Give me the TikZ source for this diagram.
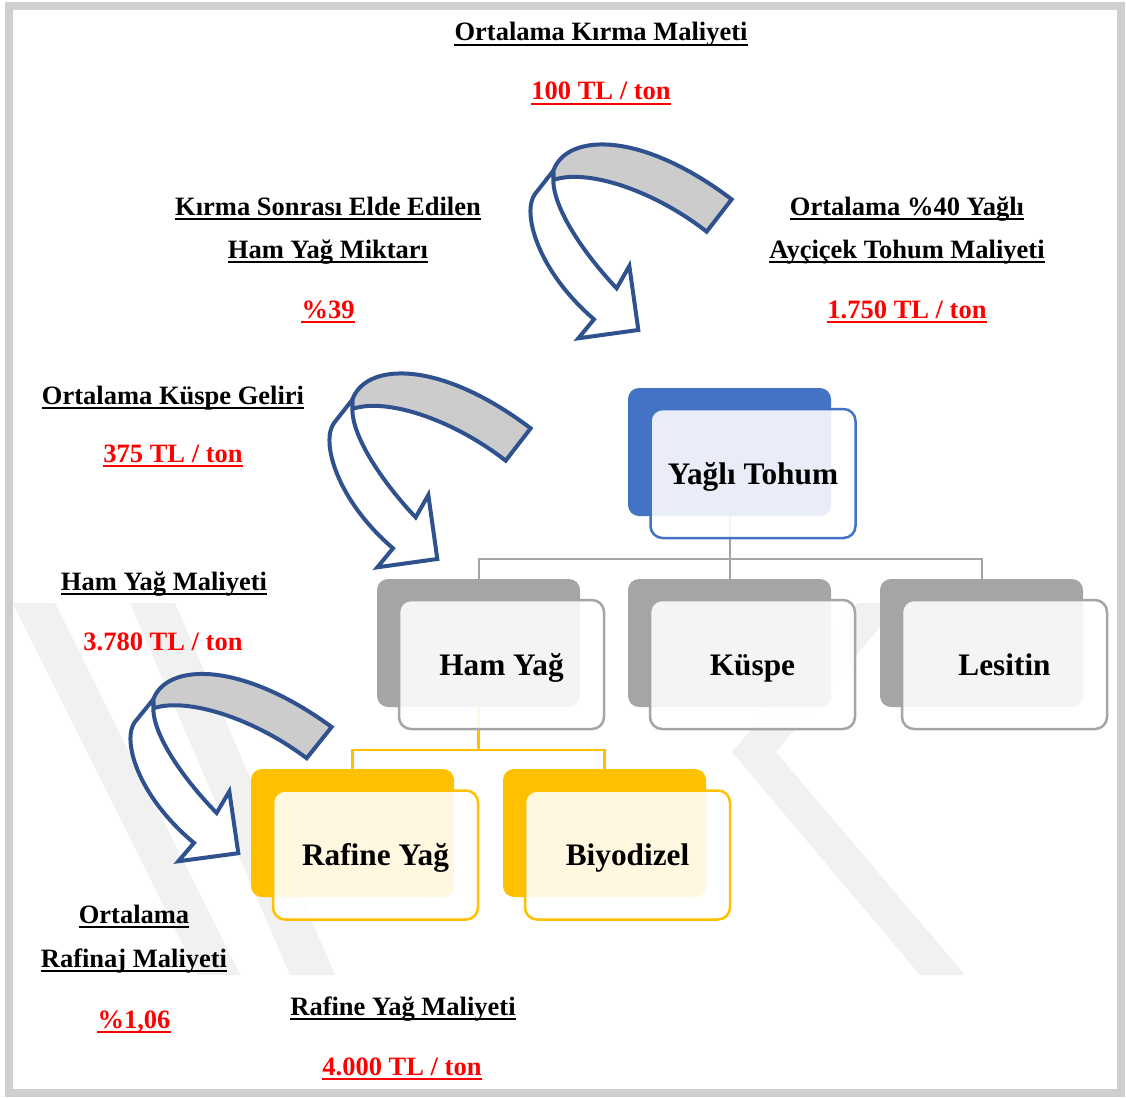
\documentclass[tikz,border=0pt]{standalone}
\usepackage{fontspec}
\setmainfont{Liberation Serif}
\usetikzlibrary{calc}
\definecolor{frameg}{RGB}{208,206,206}
\definecolor{ablue}{RGB}{47,82,143}
\definecolor{sblue}{RGB}{68,114,196}
\definecolor{sgray}{RGB}{165,165,165}
\definecolor{syel}{RGB}{255,192,0}
\definecolor{wmark}{RGB}{241,241,241}
\definecolor{tred}{RGB}{255,0,0}
\tikzset{
  lbl/.style={font=\fontsize{26.5}{30}\selectfont\bfseries, inner sep=0pt, anchor=base},
  redlbl/.style={lbl, text=tred},
  ulk/.style={line width=2.3pt, black},
  ulr/.style={line width=2.3pt, tred},
  backbox/.style={draw=none, minimum width=203pt, minimum height=128pt, rounded corners=11pt, inner sep=0pt},
  frontbox/.style={minimum width=205pt, minimum height=129pt, rounded corners=12pt, line width=2.5pt,
     fill=white, fill opacity=0.88, text opacity=1, inner sep=0pt,
     text height=28pt, text depth=7pt,
     font=\fontsize{31.3}{34}\selectfont\bfseries},
  gline/.style={draw=sgray, line width=2pt},
  yline/.style={draw=syel, line width=2.5pt},
  wm/.style={fill=wmark, draw=none},
  arrline/.style={draw=ablue, line width=4pt, line join=miter, miter limit=6},
  carrow/.pic={
    \filldraw[arrline, fill=gray!40] (100,122) .. controls (140,10) and (360,0) .. (635,208)
       -- (560,305) .. controls (400,180) and (200,115) .. (100,150) -- cycle;
    \filldraw[arrline, fill=white] (100,122) -- (45,192) .. controls (5,245) and (50,420) .. (222,568)
       -- (175,625) -- (355,600) -- (328,408) -- (290,475)
       .. controls (200,380) and (100,240) .. (100,150) -- cycle;
  }
}
\begin{document}
\begin{tikzpicture}[x=1pt,y=-1pt]
\useasboundingbox (0,0) rectangle (1126,1097);
\fill[white] (0,0) rectangle (1126,1097);
% faint watermark
\fill[wm] (13,603) -- (55,603) -- (240,975) -- (198,975) -- cycle;
\fill[wm] (130,603) -- (175,603) -- (335,975) -- (290,975) -- cycle;
\fill[wm] (858,603) -- (900,603) -- (776,752) -- (965,975) -- (920,975) -- (732,752) -- cycle;
% frame
\draw[frameg, line width=8pt] (9,6) rectangle (1121,1093);

% arrows
\pic[scale=0.3333] at (520,130) {carrow};
\pic[scale=0.3333] at (319,359) {carrow};
\pic[xscale=0.3333, yscale=0.322] at (120,660) {carrow};

% back boxes
\node[backbox, fill=sblue] (ytb) at (729.5,452) {};
\node[backbox, fill=sgray] (hyb) at (478.5,643) {};
\node[backbox, fill=sgray] (kub) at (729.5,643) {};
\node[backbox, fill=sgray] (leb) at (981.5,643) {};
\node[backbox, fill=syel] (rfb) at (352.5,833) {};
\node[backbox, fill=syel] (bdb) at (604.5,833) {};

% connectors
\draw[gline] (ytb.south) -- ++(0,43) -| (hyb.north);
\draw[gline] (ytb.south) -- (kub.north);
\draw[gline] (ytb.south) -- ++(0,43) -| (leb.north);
\draw[yline] (hyb.south) -- ++(0,43) -| (rfb.north);
\draw[yline] (hyb.south) -- ++(0,43) -| (bdb.north);

% front boxes
\node[frontbox, draw=sblue] (yt) at (753,473.5) {Yağlı Tohum};
\node[frontbox, draw=sgray] (hy) at (501.5,664.5) {Ham Yağ};
\node[frontbox, draw=sgray] (ku) at (752.5,664.5) {Küspe};
\node[frontbox, draw=sgray] (le) at (1004.5,664.5) {Lesitin};
\node[frontbox, draw=syel] (rf) at (375.5,855) {Rafine Yağ};
\node[frontbox, draw=syel] (bd) at (627.5,855) {Biyodizel};

% labels
\node[lbl] (l1) at (601,41) {Ortalama Kırma Maliyeti};
\node[redlbl] (l2) at (601,100) {100 TL / ton};
\node[lbl] (l3) at (328,215) {Kırma Sonrası Elde Edilen};
\node[lbl] (l4) at (328,258) {Ham Yağ Miktarı};
\node[redlbl] (l5) at (328,318) {\%39};
\node[lbl] (l6) at (907,215) {Ortalama \%40 Yağlı};
\node[lbl] (l7) at (907,258) {Ayçiçek Tohum Maliyeti};
\node[redlbl] (l8) at (907,318) {1.750 TL / ton};
\node[lbl] (l9) at (173,404) {Ortalama Küspe Geliri};
\node[redlbl] (l10) at (173,462) {375 TL / ton};
\node[lbl] (l11) at (164,590) {Ham Yağ Maliyeti};
\node[redlbl] (l12) at (163,650) {3.780 TL / ton};
\node[lbl] (l13) at (134,923) {Ortalama};
\node[lbl] (l14) at (134,967) {Rafinaj Maliyeti};
\node[redlbl] (l15) at (134,1028) {\%1,06};
\node[lbl] (l16) at (403,1015) {Rafine Yağ Maliyeti};
\node[redlbl] (l17) at (402,1075) {4.000 TL / ton};

% underlines
\foreach \n in {l1,l3,l4,l6,l7,l9,l11,l13,l14,l16}
  \draw[ulk] ([yshift=-4pt]\n.base west) -- ([yshift=-4pt]\n.base east);
\foreach \n in {l2,l5,l8,l10,l15,l17}
  \draw[ulr] ([yshift=-4pt]\n.base west) -- ([yshift=-4pt]\n.base east);
\end{tikzpicture}
\end{document}
